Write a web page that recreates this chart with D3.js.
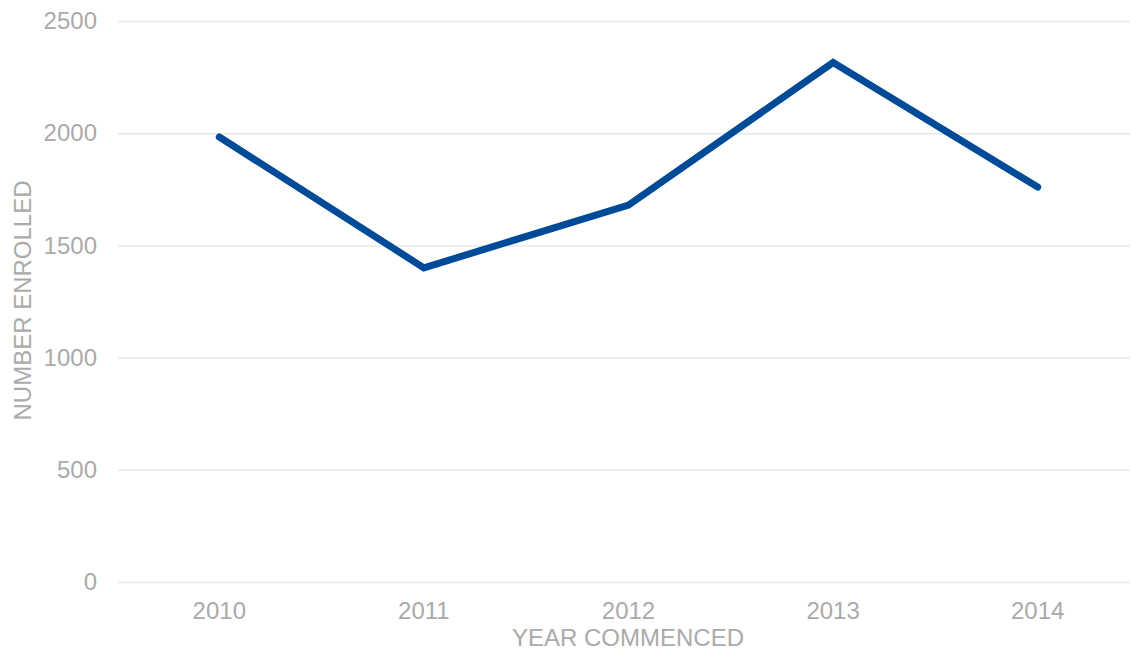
<!DOCTYPE html>
<html>
<head>
<meta charset="utf-8">
<script src="https://cdn.jsdelivr.net/npm/d3@7"></script>
<style>
  body { margin: 0; background: #fff; }
  svg text { font-family: "Liberation Sans", Arial, sans-serif; fill: #aaaaaa; }
</style>
</head>
<body>
<div id="chart"></div>
<script>
const years = ["2010", "2011", "2012", "2013", "2014"];
const enrolled = [1983, 1400, 1680, 2315, 1760];
const yTicks = [0, 500, 1000, 1500, 2000, 2500];

const W = 1131, H = 651;
const M = {top: 21, right: 1, bottom: 69, left: 118};

const svg = d3.select("#chart").append("svg").attr("width", W).attr("height", H);
const g = svg.append("g").attr("transform", `translate(${M.left},${M.top})`);
const innerW = W - M.left - M.right;
const innerH = H - M.top - M.bottom;

// category bands run slightly past the grid on the right
const x = d3.scaleBand().domain(years).range([-1, innerW + 10]);
const y = d3.scaleLinear().domain([0, 2500]).range([innerH, 0]);

// gridlines + y labels
const yAxis = g.append("g")
  .call(d3.axisLeft(y).tickValues(yTicks).tickFormat(d3.format("d")).tickSize(-innerW).tickPadding(21));
yAxis.select(".domain").remove();
yAxis.selectAll(".tick line").attr("stroke", "#e8e8e8").attr("stroke-width", 1.5);
yAxis.selectAll(".tick text").style("font-size", "24px").attr("fill", "#aaaaaa");

// x labels
const xAxis = g.append("g").attr("transform", `translate(0,${innerH})`)
  .call(d3.axisBottom(x).tickSize(0).tickPadding(20));
xAxis.select(".domain").remove();
xAxis.selectAll(".tick text").style("font-size", "24px").attr("fill", "#aaaaaa");

// line
const line = d3.line()
  .x((d, i) => x(years[i]) + x.bandwidth() / 2)
  .y(d => y(d));

g.append("path")
  .datum(enrolled)
  .attr("fill", "none")
  .attr("stroke", "#004b98")
  .attr("stroke-width", 7)
  .attr("stroke-linecap", "round")
  .attr("stroke-linejoin", "miter")
  .attr("d", line);

// axis titles
svg.append("text")
  .attr("x", 628)
  .attr("y", 646)
  .attr("text-anchor", "middle")
  .style("font-size", "24px")
  .text("YEAR COMMENCED");

svg.append("text")
  .attr("transform", `translate(31,${M.top + innerH / 2 - 1}) rotate(-90)`)
  .attr("text-anchor", "middle")
  .style("font-size", "24px")
  .text("NUMBER ENROLLED");
</script>
</body>
</html>
